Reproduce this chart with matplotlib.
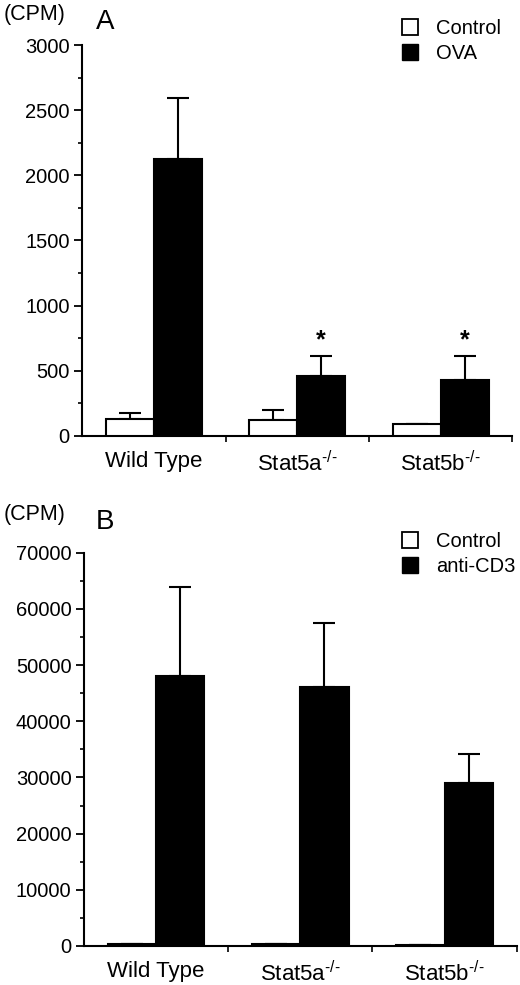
import numpy as np
import matplotlib as mpl
mpl.use('Agg')
import matplotlib.pyplot as plt
from matplotlib.patches import Patch
from matplotlib.ticker import MultipleLocator

plt.rcParams['font.family'] = ['Liberation Sans', 'DejaVu Sans']
plt.rcParams['mathtext.fontset'] = 'custom'
plt.rcParams['mathtext.rm'] = 'Liberation Sans'
plt.rcParams['mathtext.it'] = 'Liberation Sans'

groups = ['Wild Type', r'Stat5a$^{\text{-/-}}$', r'Stat5b$^{\text{-/-}}$']

# panel A: antigen (OVA) response
a_control = [130, 125, 92]
a_control_err = [50, 75, 0]
a_ova = [2125, 460, 430]
a_ova_err = [465, 155, 185]
a_star = [False, True, True]

# panel B: anti-CD3 response
b_control = [350, 350, 150]
b_control_err = [0, 0, 0]
b_cd3 = [48100, 46100, 29000]
b_cd3_err = [15850, 11400, 5200]

W = 0.335


def panel(fig, ax, ctrl, ctrl_err, stim, stim_err, ymax, major, minor, letter, stim_name,
          top_px, leg_px, stars=None):
    x = np.arange(len(groups))
    ax.bar(x - W / 2, ctrl, W, color='white', edgecolor='black', linewidth=1.5, zorder=3)
    ax.bar(x + W / 2, stim, W, color='black', edgecolor='black', linewidth=1.5, zorder=3)
    ekw = dict(fmt='none', ecolor='black', elinewidth=1.5, capsize=8, capthick=1.5, zorder=2)
    ax.errorbar(x - W / 2, ctrl, yerr=[np.zeros(len(x)), ctrl_err], **ekw)
    ax.errorbar(x + W / 2, stim, yerr=[np.zeros(len(x)), stim_err], **ekw)
    if stars:
        for i, s in enumerate(stars):
            if s:
                ax.text(x[i] + W / 2, stim[i] + stim_err[i] + ymax * 0.008, '*',
                        ha='center', va='bottom', fontsize=18, fontweight='bold')

    ax.set_xlim(-0.5, 2.5)
    ax.set_ylim(0, ymax)
    ax.spines['top'].set_visible(False)
    ax.spines['right'].set_visible(False)
    ax.spines['left'].set_linewidth(1.5)
    ax.spines['bottom'].set_linewidth(1.5)
    ax.yaxis.set_major_locator(MultipleLocator(major))
    ax.yaxis.set_minor_locator(MultipleLocator(minor))
    ax.tick_params(axis='y', which='major', length=6, width=1.3, labelsize=14.5, pad=3)
    ax.tick_params(axis='y', which='minor', length=3, width=1.2)
    ax.set_xticks(x)
    ax.set_xticklabels(groups, fontsize=16)
    ax.tick_params(axis='x', which='major', length=0, pad=11)
    ax.set_xticks([0.5, 1.5, 2.5], minor=True)
    ax.tick_params(axis='x', which='minor', length=4, width=1.2, direction='out')

    H = 985.0
    fig.text(4 / 520, 1 - top_px / H, '(CPM)', fontsize=15.5, ha='left', va='top')
    fig.text(96 / 520, 1 - (top_px + 5) / H, letter, fontsize=20, ha='left', va='top')

    handles = [Patch(facecolor='white', edgecolor='black', linewidth=1.3, label='Control'),
               Patch(facecolor='black', edgecolor='black', label=stim_name)]
    ax.legend(handles=handles, loc='upper left', bbox_to_anchor=(402 / 520, 1 - leg_px / H),
              bbox_transform=fig.transFigure,
              frameon=False, fontsize=14.5, handlelength=0.8, handleheight=0.8,
              handletextpad=0.9, labelspacing=0.3, borderpad=0, borderaxespad=0)


fig = plt.figure(figsize=(5.2, 9.85), dpi=100)
axA = fig.add_axes([0.158, 0.5574, 0.827, 0.3969])
axB = fig.add_axes([0.1615, 0.0396, 0.832, 0.3993])

panel(fig, axA, a_control, a_control_err, a_ova, a_ova_err, 3000, 500, 250, 'A', 'OVA',
      4, 19, a_star)
panel(fig, axB, b_control, b_control_err, b_cd3, b_cd3_err, 70000, 10000, 5000, 'B', 'anti-CD3',
      504, 532)

fig.savefig('out.png', dpi=100)
